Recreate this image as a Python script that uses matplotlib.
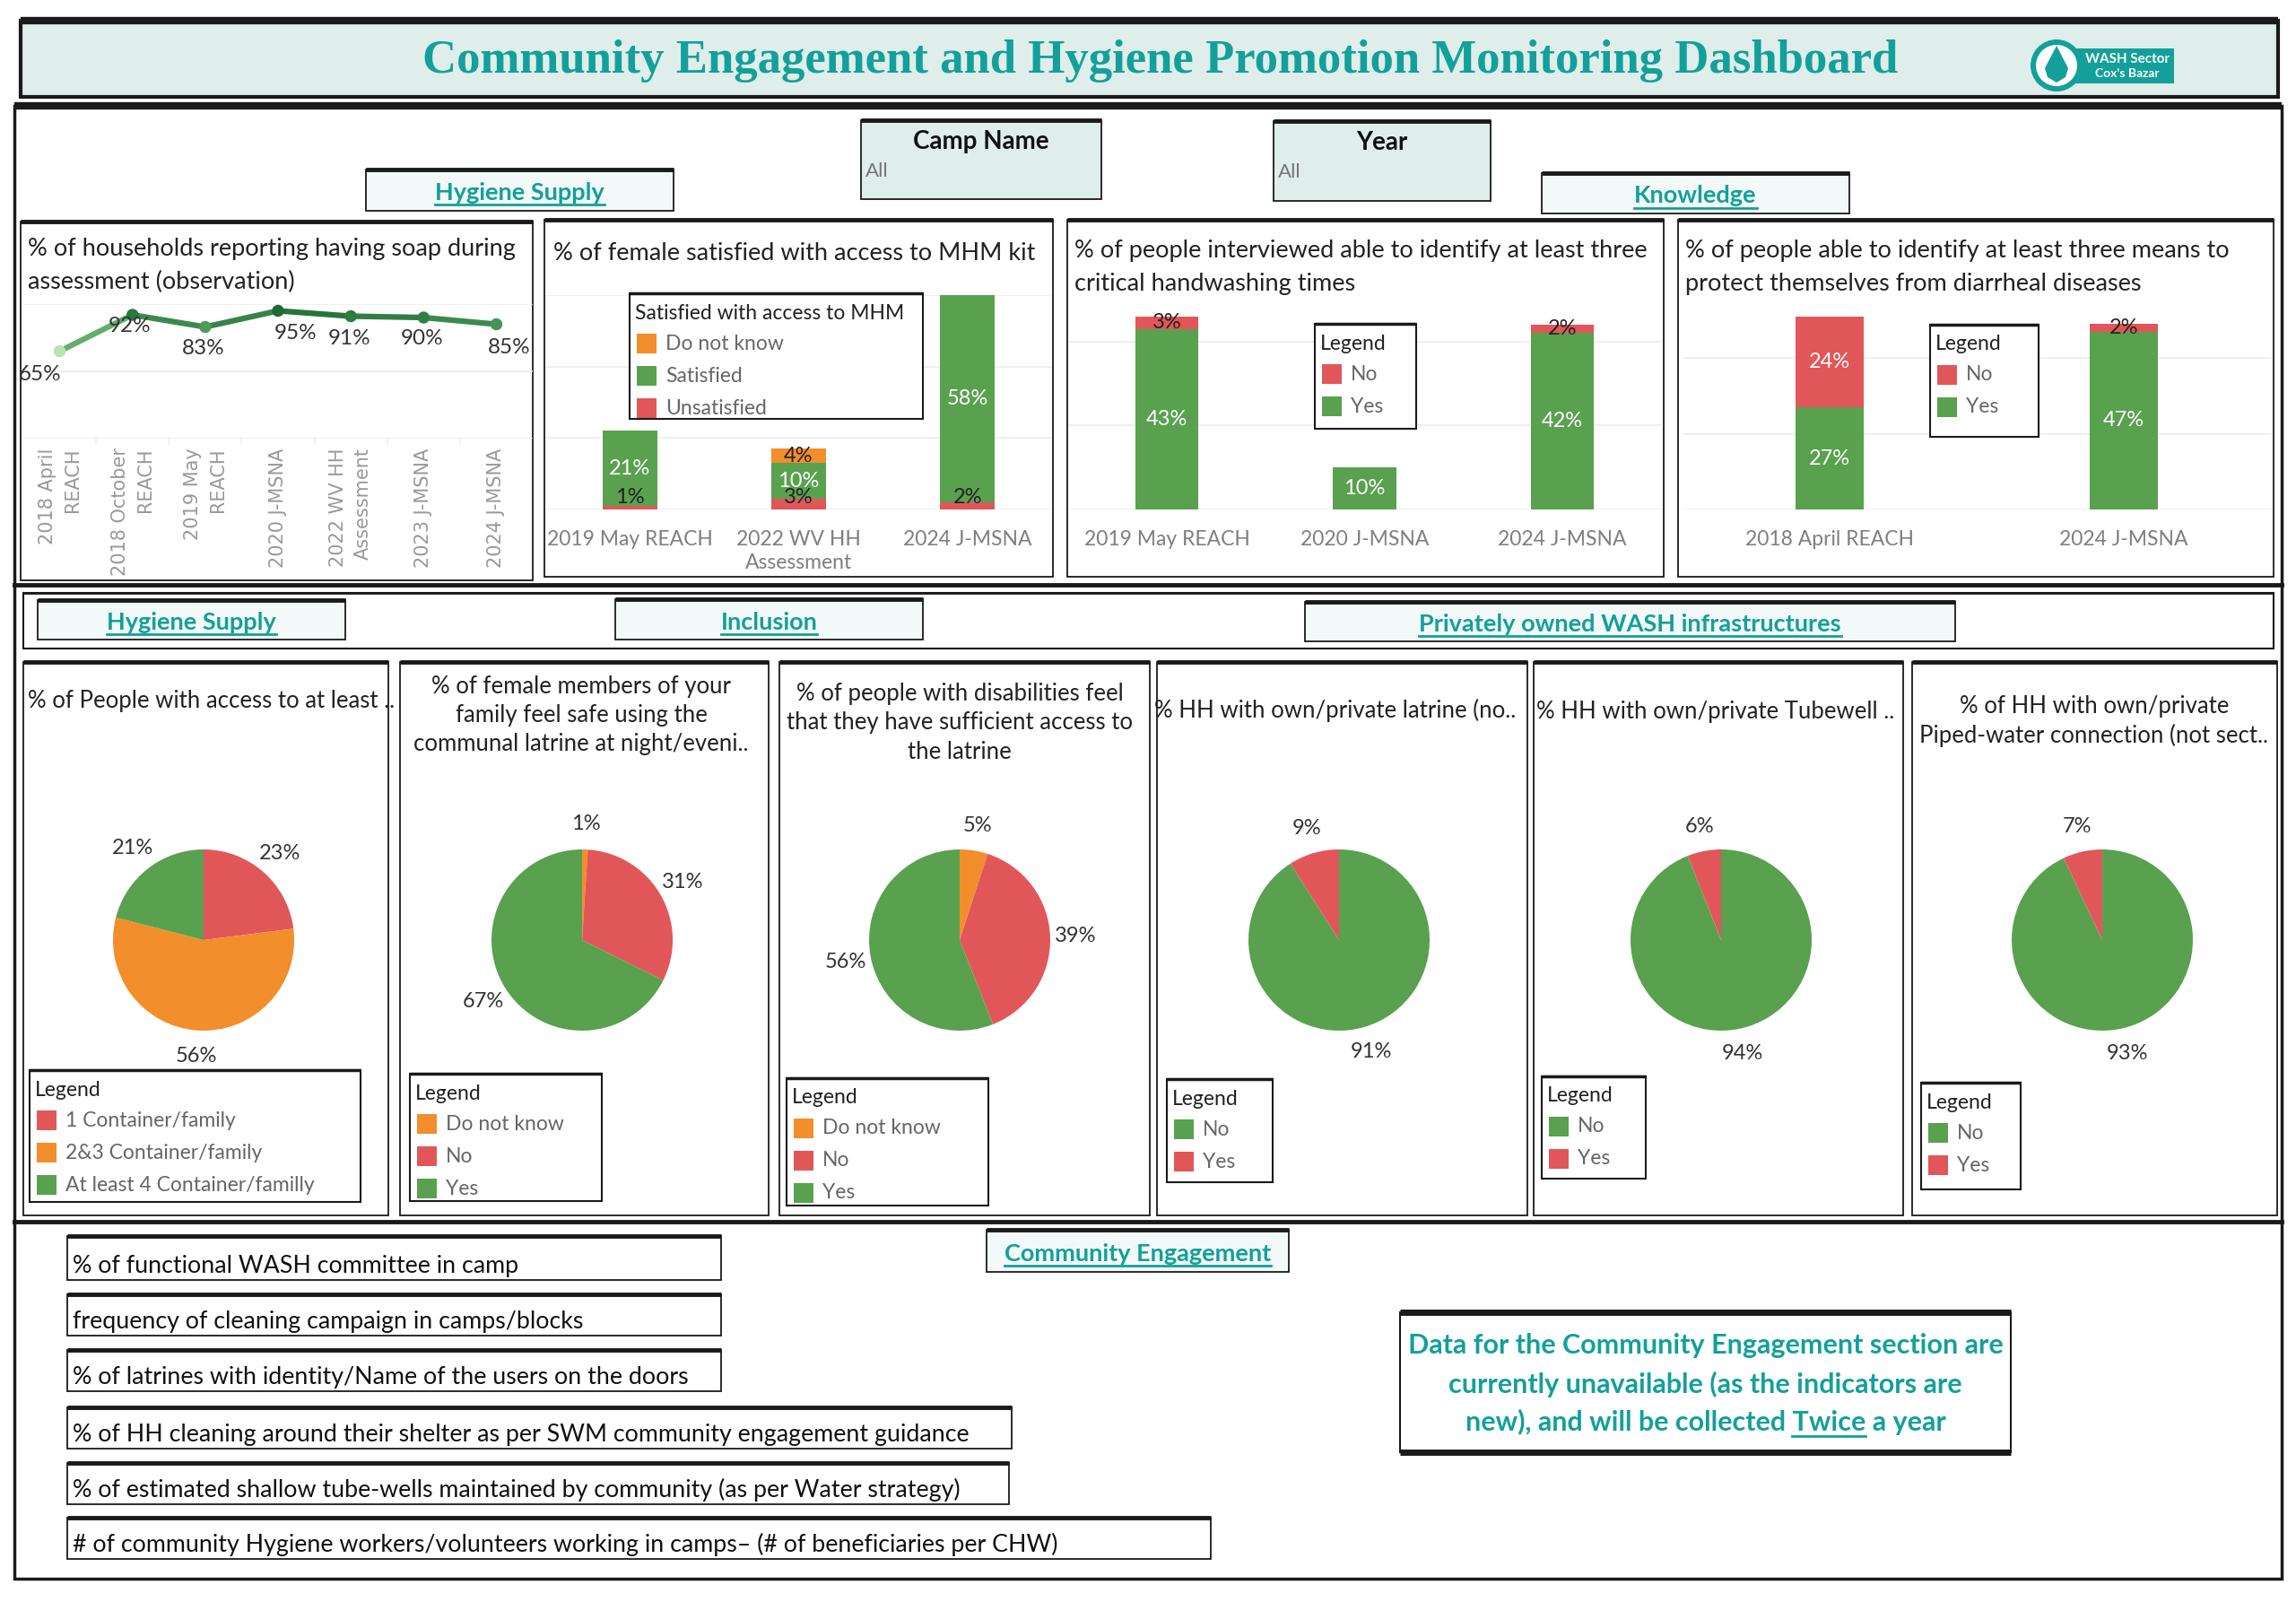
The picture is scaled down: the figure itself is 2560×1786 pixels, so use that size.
import matplotlib
matplotlib.use('Agg')
import matplotlib.pyplot as plt
from matplotlib.patches import Rectangle, Circle, Polygon
from matplotlib.collections import LineCollection
from matplotlib.colors import LinearSegmentedColormap
import numpy as np

plt.rcParams['font.family'] = ['Lato', 'DejaVu Sans']

TEAL = '#13a09a'
GREEN = '#59a14f'
RED = '#e15759'
ORANGE = '#f28e2b'
GRAY = '#7f7f7f'

# ---- data -------------------------------------------------------------
soap_labels = ['2018 April\nREACH', '2018 October\nREACH', '2019 May\nREACH', '2020 J-MSNA',
               '2022 WV HH\nAssessment', '2023 J-MSNA', '2024 J-MSNA']
soap_values = [65, 92, 83, 95, 91, 90, 85]

mhm_labels = ['2019 May REACH', '2022 WV HH\nAssessment', '2024 J-MSNA']
mhm_unsatisfied = [1, 3, 2]
mhm_satisfied = [21, 10, 58]
mhm_dont_know = [0, 4, 0]

hw_labels = ['2019 May REACH', '2020 J-MSNA', '2024 J-MSNA']
hw_yes = [43, 10, 42]
hw_no = [3, 0, 2]

dia_labels = ['2018 April REACH', '2024 J-MSNA']
dia_yes = [27, 47]
dia_no = [24, 2]

containers_values = [23, 56, 21]          # 1, 2&3, at least 4 containers
latrine_night_values = [1, 31, 67]        # do not know, no, yes
disab_values = [5, 39, 56]                # do not know, no, yes
own_latrine_values = [91, 9]              # no, yes
own_tubewell_values = [94, 6]
own_piped_values = [93, 7]

ce_indicators = ['% of functional WASH committee in camp',
                 'frequency of cleaning campaign in camps/blocks',
                 '% of latrines with identity/Name of the users on the doors',
                 '% of HH cleaning around their shelter as per SWM community engagement guidance',
                 '% of estimated shallow tube-wells maintained by community (as per Water strategy)',
                 '# of community Hygiene workers/volunteers working in camps\u2013 (# of beneficiaries per CHW)']

# ---- canvas in pixel coordinates ---------------------------------------
W, H = 2560, 1786
fig = plt.figure(figsize=(W / 100, H / 100), dpi=100)
renderer = fig.canvas.get_renderer()


def overlay(z):
    a = fig.add_axes([0, 0, 1, 1], zorder=z)
    a.set_xlim(0, W)
    a.set_ylim(H, 0)
    a.axis('off')
    a.patch.set_alpha(0)
    return a


bg = overlay(0)
fg = overlay(20)


def px_axes(x0, y0, x1, y1):
    a = fig.add_axes([x0 / W, 1 - y1 / H, (x1 - x0) / W, (y1 - y0) / H], zorder=5)
    a.patch.set_alpha(0)
    return a


def panel(x0, y0, x1, y1, top=3.5, lw=1.3, fc='white', ax=None):
    ax = ax or bg
    ax.add_patch(Rectangle((x0, y0), x1 - x0, y1 - y0, facecolor=fc,
                           edgecolor='#1a1a1a', linewidth=lw))
    if top:
        ax.plot([x0, x1], [y0, y0], color='#1a1a1a', lw=top, solid_capstyle='butt')


def underlined(ax, x, y, s, **kw):
    t = ax.text(x, y, s, ha='center', va='center', **kw)
    bb = t.get_window_extent(renderer)
    ax.plot([bb.x0, bb.x1], [H - bb.y0 + 1] * 2, color=kw.get('color', 'k'), lw=2)
    return t


def header(x0, y0, x1, y1, label, fs=19.5):
    panel(x0, y0, x1, y1, fc='#f3f9f8', top=3.5, lw=1.3)
    underlined(bg, (x0 + x1) / 2, (y0 + y1) / 2 + 3, label, fontsize=fs,
               color=TEAL, fontweight='bold')


def legend_box(x0, y0, x1, y1, title, labels, colors, fs=16.5):
    panel(x0, y0, x1, y1, top=2.5, lw=1.5, ax=fg)
    fg.text(x0 + 6, y0 + 22, title, fontsize=fs, color='#222', va='center')
    for i, (lab, c) in enumerate(zip(labels, colors)):
        yy = y0 + 56 + i * 36
        fg.add_patch(Rectangle((x0 + 8, yy - 11), 22, 22, facecolor=c, edgecolor='none'))
        fg.text(x0 + 40, yy, lab, fontsize=fs, color='#666', va='center')


# ---- title bar ----------------------------------------------------------
panel(23, 23, 2540, 108, fc='#dfeeeb', top=6, lw=3)
bg.text(1294, 68, 'Community Engagement and Hygiene Promotion Monitoring Dashboard',
        family='Liberation Serif', fontweight='bold', fontsize=38, color=TEAL,
        ha='center', va='center')
# logo
bg.add_patch(Rectangle((2300, 54), 124, 39, facecolor=TEAL, edgecolor='none'))
bg.add_patch(Circle((2293, 73), 29, facecolor=TEAL, edgecolor='none'))
bg.add_patch(Circle((2293, 73), 23, facecolor='white', edgecolor='none'))
bg.add_patch(Polygon([[2293, 51], [2280, 76], [2283, 86], [2293, 92], [2303, 86], [2306, 76]],
                     closed=True, facecolor=TEAL, edgecolor='none'))
bg.text(2372, 66, 'WASH Sector', color='white', fontsize=11, fontweight='bold',
        ha='center', va='center')
bg.text(2372, 82, "Cox's Bazar", color='white', fontsize=10, fontweight='bold',
        ha='center', va='center')

# ---- frames ---------------------------------------------------------------
panel(16, 118, 2544, 1760, top=6, lw=2.5)
bg.plot([16, 2544], [652, 652], color='#1a1a1a', lw=3.5)
bg.plot([16, 2544], [1362, 1362], color='#1a1a1a', lw=3.5)

# filters
for (x0, y0, x1, y1, lab) in [(960, 134, 1228, 222, 'Camp Name'), (1420, 135, 1662, 224, 'Year')]:
    panel(x0, y0, x1, y1, fc='#dfeeeb', top=3.5, lw=1.3)
    bg.text((x0 + x1) / 2, y0 + 24, lab, fontsize=20, fontweight='bold', color='#111',
            ha='center', va='center')
    bg.text(x0 + 5, y0 + 57, 'All', fontsize=16, color='#777', ha='left', va='center')

header(408, 189, 751, 235, 'Hygiene Supply')
header(1719, 193, 2062, 238, 'Knowledge')

# ---- top row panels ------------------------------------------------------
TFS = 19.5
panel(23, 247, 594, 647)
bg.text(31, 296, '% of households reporting having soap during\nassessment (observation)',
        fontsize=TFS, color='#222', va='center', ha='left', linespacing=1.6)
panel(607, 245, 1174, 643)
bg.text(617, 282, '% of female satisfied with access to MHM kit', fontsize=TFS, color='#222',
        va='center')
panel(1190, 245, 1855, 643)
bg.text(1198, 298, '% of people interviewed able to identify at least three\ncritical handwashing times',
        fontsize=TFS, color='#222', va='center', linespacing=1.6)
panel(1871, 245, 2535, 643)
bg.text(1879, 298, '% of people able to identify at least three means to\nprotect themselves from diarrheal diseases',
        fontsize=TFS, color='#222', va='center', linespacing=1.6)

# line chart
ax = px_axes(26, 339, 594, 489)
x = np.arange(len(soap_values))
vals = np.array(soap_values, float)
cmap = LinearSegmentedColormap.from_list('soap', ['#b9e3b2', '#5aa864', '#1f6b36'])
lo, hi = min(soap_values), max(soap_values)
norm = lambda v: (v - lo) / (hi - lo)
segs = [[(x[i], vals[i]), (x[i + 1], vals[i + 1])] for i in range(len(x) - 1)]
seg_cols = [cmap(norm((vals[i] + vals[i + 1]) / 2)) for i in range(len(x) - 1)]
ax.add_collection(LineCollection(segs, colors=seg_cols, linewidths=4.5, zorder=3,
                                 capstyle='round'))
ax.scatter(x, vals, s=75, c=[cmap(norm(v)) for v in vals], zorder=4)
offs = [(-22, -26), (-3, -12), (-2, -24), (20, -25), (-2, -25), (-2, -24), (14, -26)]
for xi, v, (dx, dy) in zip(x, vals, offs):
    ax.annotate(f'{int(v)}%', (xi, v), xytext=(dx * 0.72, dy * 0.72), textcoords='offset points',
                ha='center', va='center', fontsize=17.5, color='#333', zorder=5)
ax.set_xlim(-0.5, len(x) - 0.5)
ax.set_ylim(0, 100)
ax.set_yticks([0, 50, 100])
ax.yaxis.grid(True, color='#ececec', lw=1.2)
ax.set_axisbelow(True)
ax.tick_params(left=False, labelleft=False, bottom=False, pad=4)
ax.set_xticks(x)
ax.set_xticks(np.arange(0.5, len(x) - 1, 1), minor=True)
ax.tick_params(axis='x', which='minor', length=5, width=1.2, color='#eeeeee')
ax.set_xticklabels(soap_labels, rotation=90, ha='center', va='top', multialignment='right',
                   family='DejaVu Sans', fontsize=15, color='#999999', linespacing=1.5)
for s in ax.spines.values():
    s.set_visible(False)


def stacked(box, cats, layers, colors, ymax, width, minlab=0):
    a = px_axes(*box)
    xs = np.arange(len(cats))
    bottom = np.zeros(len(cats))
    for layer, col in zip(layers, colors):
        v = np.array(layer, float)
        a.bar(xs, v, width, bottom=bottom, color=col, zorder=3, linewidth=0)
        for xi, b, vi in zip(xs, bottom, v):
            if vi <= 0:
                continue
            yc = b + vi / 2
            if b == 0 and vi < 5:
                yc = max(yc, minlab)
            a.text(xi, yc, f'{int(vi)}%', ha='center', va='center', fontsize=17,
                   color='white' if vi >= 8 else '#222', zorder=4)
        bottom += v
    a.set_xlim(-0.5, len(cats) - 0.5)
    a.set_ylim(0, ymax)
    a.set_yticks(np.arange(0, ymax + 0.1, 20))
    a.yaxis.grid(True, color='#ececec', lw=1.2)
    a.set_axisbelow(True)
    a.tick_params(left=False, labelleft=False, bottom=False, pad=13)
    a.set_xticks(xs)
    a.set_xticklabels(cats, fontsize=16.5, color=GRAY, linespacing=1.3)
    for s in a.spines.values():
        s.set_visible(False)
    return a


stacked((608, 329, 1173, 568), mhm_labels, [mhm_unsatisfied, mhm_satisfied, mhm_dont_know],
        [RED, GREEN, ORANGE], 60, 0.325, minlab=3.5)
legend_box(702, 327, 1029, 467, 'Satisfied with access to MHM',
           ['Do not know', 'Satisfied', 'Unsatisfied'], [ORANGE, GREEN, RED])

stacked((1191, 334, 1852, 568), hw_labels, [hw_yes, hw_no], [GREEN, RED], 50, 0.32)
legend_box(1466, 361, 1579, 478, 'Legend', ['No', 'Yes'], [RED, GREEN])

stacked((1876, 336, 2532, 568), dia_labels, [dia_yes, dia_no], [GREEN, RED], 55, 0.23)
legend_box(2152, 362, 2273, 487, 'Legend', ['No', 'Yes'], [RED, GREEN])

# ---- second row ------------------------------------------------------------
panel(26, 661, 2535, 723, top=2, lw=1.5)
header(42, 669, 385, 713, 'Hygiene Supply')
header(686, 668, 1029, 713, 'Inclusion')
header(1455, 671, 2180, 715, 'Privately owned WASH infrastructures')

pie_panels = [(26, 433), (446, 857), (869, 1282), (1290, 1703), (1710, 2122), (2132, 2539)]
for (x0, x1) in pie_panels:
    panel(x0, 738, x1, 1355, top=3.5, lw=1.3)

pie_titles = [
    ('% of People with access to at least ..', 31, 782, 'left'),
    ('% of female members of your\nfamily feel safe using the\ncommunal latrine at night/eveni..', 648, 797, 'center'),
    ('% of people with disabilities feel\nthat they have sufficient access to\nthe latrine', 1070, 806, 'center'),
    ('% HH with own/private latrine (no..', 1489, 792, 'center'),
    ('% HH with own/private Tubewell ..', 1913, 793, 'center'),
    ('% of HH with own/private\nPiped-water connection (not sect..', 2335, 804, 'center'),
]
for (t, tx, ty, ha) in pie_titles:
    bg.text(tx, ty, t, fontsize=18.5, color='#222', ha=ha, va='center', multialignment='center',
            linespacing=1.35)

pie_specs = [
    (227, containers_values, [RED, ORANGE, GREEN]),
    (649, latrine_night_values, [ORANGE, RED, GREEN]),
    (1070, disab_values, [ORANGE, RED, GREEN]),
    (1493, own_latrine_values, [GREEN, RED]),
    (1919, own_tubewell_values, [GREEN, RED]),
    (2344, own_piped_values, [GREEN, RED]),
]
PR, AR, CY = 101, 160, 1048
for cx, vals_p, cols in pie_specs:
    a = px_axes(cx - AR, CY - AR, cx + AR, CY + AR)
    wedges, _ = a.pie(vals_p, colors=cols, startangle=90, counterclock=False, radius=1,
                      wedgeprops=dict(linewidth=0))
    for w, v in zip(wedges, vals_p):
        ang = np.deg2rad((w.theta1 + w.theta2) / 2)
        a.text(1.28 * np.cos(ang), 1.28 * np.sin(ang), f'{v}%', ha='center', va='center',
               fontsize=17, color='#333')
    a.set_xlim(-AR / PR, AR / PR)
    a.set_ylim(-AR / PR, AR / PR)
    a.set_aspect('equal')
    a.axis('off')

legend_box(33, 1193, 402, 1340, 'Legend',
           ['1 Container/family', '2&3 Container/family', 'At least 4 Container/familly'],
           [RED, ORANGE, GREEN])
legend_box(457, 1197, 671, 1339, 'Legend', ['Do not know', 'No', 'Yes'], [ORANGE, RED, GREEN])
legend_box(877, 1202, 1102, 1344, 'Legend', ['Do not know', 'No', 'Yes'], [ORANGE, RED, GREEN])
legend_box(1301, 1203, 1419, 1318, 'Legend', ['No', 'Yes'], [GREEN, RED])
legend_box(1719, 1200, 1835, 1314, 'Legend', ['No', 'Yes'], [GREEN, RED])
legend_box(2142, 1207, 2253, 1326, 'Legend', ['No', 'Yes'], [GREEN, RED])

# ---- community engagement ----------------------------------------------------
ce_boxes = [(75, 1378, 804, 1427), (75, 1443, 804, 1489), (75, 1505, 804, 1551),
            (75, 1569, 1128, 1615), (75, 1631, 1125, 1677), (75, 1692, 1350, 1738)]
for (x0, y0, x1, y1), t in zip(ce_boxes, ce_indicators):
    panel(x0, y0, x1, y1, top=3.5, lw=1.3)
    bg.text(x0 + 6, y1 - 16, t, fontsize=19.3, color='#111', ha='left', va='center')

header(1100, 1371, 1437, 1418, 'Community Engagement')

NX0, NX1 = 1561, 2242
panel(NX0, 1463, NX1, 1619, top=5, lw=1.5)
bg.plot([NX0, NX1], [1619, 1619], color='#1a1a1a', lw=5, solid_capstyle='butt')
note_kw = dict(fontsize=22, fontweight='bold', color=TEAL, va='center')
NC = (NX0 + NX1) / 2
bg.text(NC, 1500, 'Data for the Community Engagement section are', ha='center', **note_kw)
bg.text(NC, 1543, 'currently unavailable (as the indicators are', ha='center', **note_kw)
line3 = bg.text(NC, 1585, 'new), and will be collected Twice a year', ha='center', **note_kw)
bb = line3.get_window_extent(renderer)


def width_of(s):
    t = bg.text(0, 0, s, **note_kw)
    w = t.get_window_extent(renderer).width
    t.remove()
    return w


end = bb.x0 + width_of('new), and will be collected Twice')
start = end - width_of('Twice')
bg.plot([start, end], [H - bb.y0 + 1] * 2, color=TEAL, lw=2)

fig.savefig('out.png', dpi=100)
